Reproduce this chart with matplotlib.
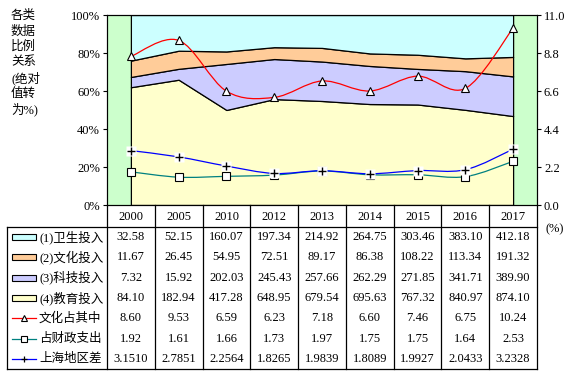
import matplotlib
matplotlib.use('Agg')
import matplotlib.pyplot as plt
from matplotlib.path import Path
from matplotlib.patches import PathPatch, Rectangle
import numpy as np

plt.rcParams['font.family'] = ['Liberation Serif', 'Noto Sans CJK SC', 'DejaVu Sans']

years = ['2000', '2005', '2010', '2012', '2013', '2014', '2015', '2016', '2017']
health = [32.58, 52.15, 160.07, 197.34, 214.92, 264.75, 303.46, 383.10, 412.18]
culture = [11.67, 26.45, 54.95, 72.51, 89.17, 86.38, 108.22, 113.34, 191.32]
science = [7.32, 15.92, 202.03, 245.43, 257.66, 262.29, 271.85, 341.71, 389.90]
education = [84.10, 182.94, 417.28, 648.95, 679.54, 695.63, 767.32, 840.97, 874.10]
culture_share = [8.60, 9.53, 6.59, 6.23, 7.18, 6.60, 7.46, 6.75, 10.24]
fiscal_share = [1.92, 1.61, 1.66, 1.73, 1.97, 1.75, 1.75, 1.64, 2.53]
sh_gap = [3.1510, 2.7851, 2.2564, 1.8265, 1.9839, 1.8089, 1.9927, 2.0433, 3.2328]

area_labels = ['(1)卫生投入', '(2)文化投入', '(3)科技投入', '(4)教育投入']
line_labels = ['文化占其中', '占财政支出', '上海地区差']
area_colors = ['#CCFFFF', '#FFCC99', '#CCCCFF', '#FFFFCC']
line_colors = ['#FF0000', '#008080', '#0000FF']


def smooth_path(x, y):
    # Excel-like smoothed line: Catmull-Rom as cubic Bezier segments
    pts = np.column_stack([x, y]).astype(float)
    p = np.vstack([pts[0], pts, pts[-1]])
    verts = [pts[0]]
    codes = [Path.MOVETO]
    for i in range(1, len(p) - 2):
        c1 = p[i] + (p[i + 1] - p[i - 1]) / 6.0
        c2 = p[i + 1] - (p[i + 2] - p[i]) / 6.0
        verts += [c1, c2, p[i + 1]]
        codes += [Path.CURVE4] * 3
    return Path(verts, codes)


W, H = 577, 376
fig = plt.figure(figsize=(W / 100, H / 100), dpi=100)

L, R, T, B = 107, 537, 15, 205
ax = fig.add_axes([L / W, 1 - B / H, (R - L) / W, (B - T) / H])
ax.set_facecolor('#CCFFCC')
x = np.arange(len(years))
tot = np.array(health) + np.array(culture) + np.array(science) + np.array(education)
shares = [np.array(v) / tot * 100 for v in (education, science, culture, health)]
ax.stackplot(x, *shares, colors=area_colors[::-1], edgecolor='black', linewidth=0.9)
ax.set_xlim(-0.5, len(years) - 0.5)
ax.set_ylim(0, 100)
ax.set_yticks(np.arange(0, 101, 20))
ax.set_yticklabels(['%d%%' % v for v in range(0, 101, 20)], fontsize=9)
ax.set_xticks([])
ax.tick_params(axis='y', length=3, width=0.8, direction='out', pad=2)
for s in ax.spines.values():
    s.set_linewidth(0.8)

ax2 = ax.twinx()
ax2.set_ylim(0, 11)
ax2.set_yticks(np.arange(0, 11.01, 2.2))
ax2.set_yticklabels(['%.1f' % v for v in np.arange(0, 11.01, 2.2)], fontsize=9)
ax2.tick_params(axis='y', length=3, width=0.8, direction='out', pad=2)
for s in ax2.spines.values():
    s.set_linewidth(0.8)

series = [culture_share, fiscal_share, sh_gap]
markers = ['^', 's', '+']
for vals, col, mk in zip(series, line_colors, markers):
    ax2.add_patch(PathPatch(smooth_path(x, vals), facecolor='none', edgecolor=col, lw=0.9))
for vals, mk in zip(series, markers):
    if mk == '+':
        ax2.plot(x, vals, ls='none', marker='s', ms=6.5, mfc='white', mec='none', zorder=5)
        ax2.plot(x, vals, ls='none', marker='+', ms=6, mec='black', mew=1.0, zorder=6)
    else:
        ax2.plot(x, vals, ls='none', marker=mk, ms=6, mfc='white', mec='black', mew=0.8, zorder=5)

# overlay for table and side texts, in pixel coordinates
ov = fig.add_axes([0, 0, 1, 1])
ov.set_xlim(0, W)
ov.set_ylim(H, 0)
ov.axis('off')

title = ['各类', '数据', '比例', '关系', '(绝对', '值转', '为%)']
for i, t in enumerate(title):
    ov.text(11, 16 + i * 15.5, t, fontsize=9, va='center', ha='left')
ov.text(546, 229, '(%)', fontsize=9, va='center', ha='left')

cw = (R - L) / len(years)
hdr_b = 227
tb_l, tb_b = 7, 369
rh = (tb_b - hdr_b) / 7
lk = dict(color='black', lw=0.9)
for i in range(len(years) + 1):
    xx = L + i * cw
    ov.plot([xx, xx], [B, tb_b], **lk)
ov.plot([tb_l, R], [hdr_b, hdr_b], **lk)
ov.plot([tb_l, R], [tb_b, tb_b], **lk)
ov.plot([tb_l, tb_l], [hdr_b, tb_b], **lk)
for i, yv in enumerate(years):
    ov.text(L + (i + 0.5) * cw, (B + hdr_b) / 2 + 1, yv, fontsize=9, ha='center', va='center')

rows = [health, culture, science, education, culture_share, fiscal_share, sh_gap]
fmts = ['%.2f'] * 6 + ['%.4f']
for r, (vals, fm) in enumerate(zip(rows, fmts)):
    cy = hdr_b + (r + 0.5) * rh
    for i, v in enumerate(vals):
        ov.text(L + (i + 0.5) * cw, cy, fm % v, fontsize=9, ha='center', va='center')

for r, (lab, col) in enumerate(zip(area_labels, area_colors)):
    cy = hdr_b + (r + 0.5) * rh
    ov.add_patch(Rectangle((12, cy - 3), 24, 6, facecolor=col, edgecolor='black', lw=0.8))
    ov.text(39, cy, lab, fontsize=9, ha='left', va='center')
for r, (lab, col, mk) in enumerate(zip(line_labels, line_colors, markers)):
    cy = hdr_b + (r + 4.5) * rh
    ov.plot([12, 36], [cy, cy], color=col, lw=0.9)
    if mk == '+':
        ov.plot([24], [cy], marker='+', ms=5, mec='black', mew=0.9)
    else:
        ov.plot([24], [cy], marker=mk, ms=5, mfc='white', mec='black', mew=0.8)
    ov.text(39, cy, lab, fontsize=9, ha='left', va='center')

fig.savefig('out.png', dpi=100)
